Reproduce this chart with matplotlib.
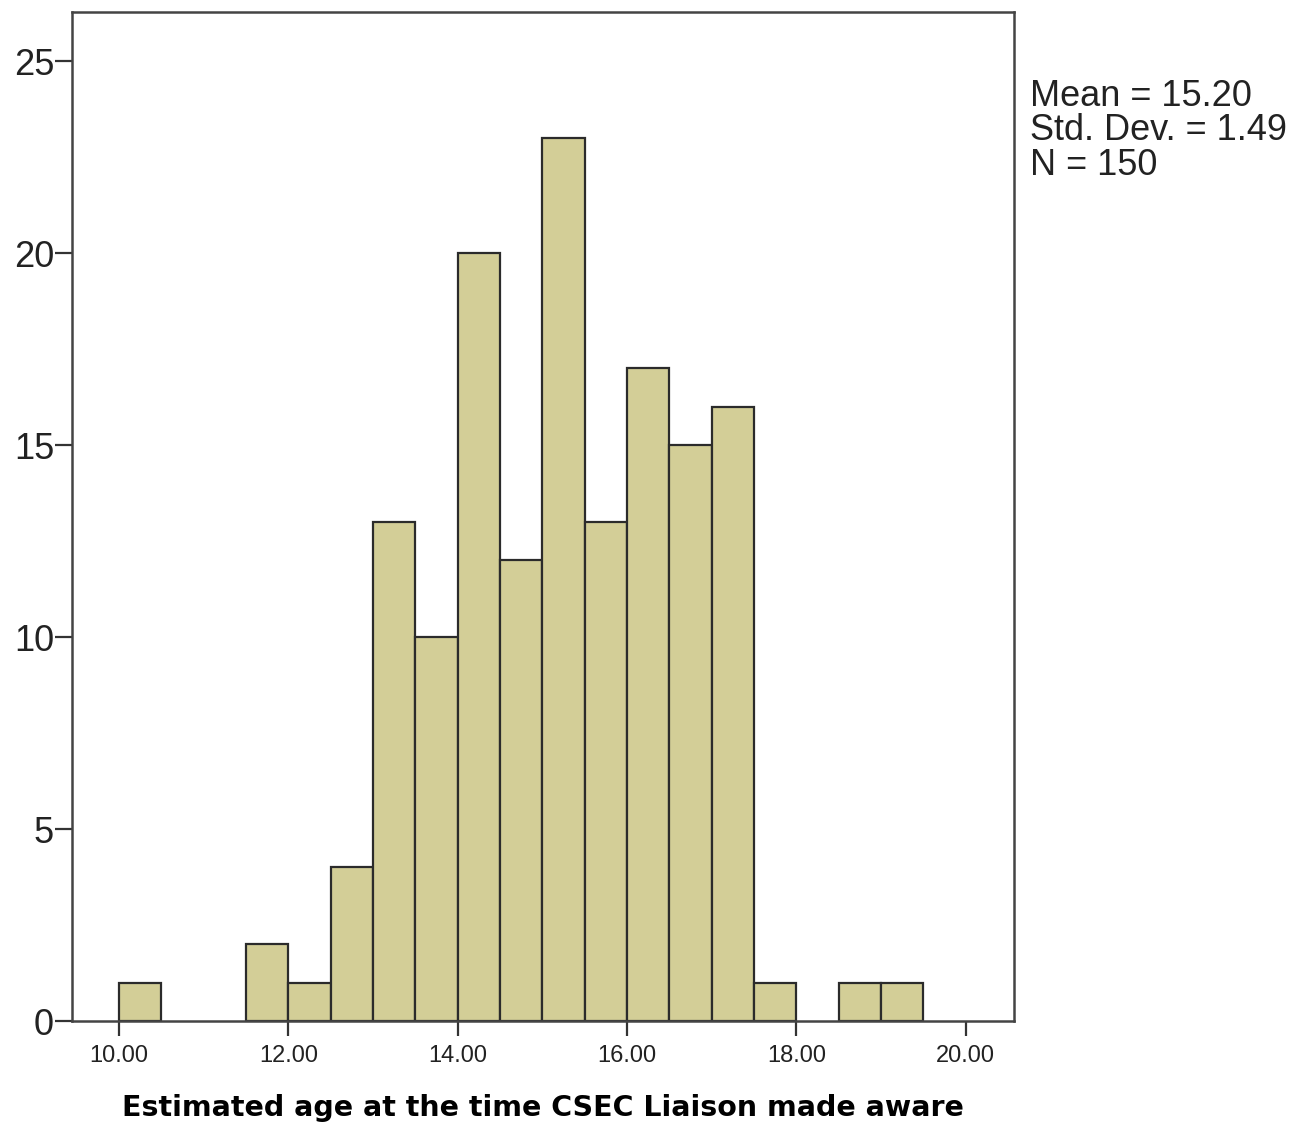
import numpy as np
import matplotlib
matplotlib.use("Agg")
import matplotlib.pyplot as plt

# histogram bins (left edges) and counts, width 0.5
bin_left = [10.0, 10.5, 11.0, 11.5, 12.0, 12.5, 13.0, 13.5, 14.0, 14.5,
            15.0, 15.5, 16.0, 16.5, 17.0, 17.5, 18.0, 18.5, 19.0]
counts = [1, 0, 0, 2, 1, 4, 13, 10, 20, 12, 23, 13, 17, 15, 16, 1, 0, 1, 1]
bin_width = 0.5

x_ticks = [10, 12, 14, 16, 18, 20]
y_ticks = [0, 5, 10, 15, 20, 25]
stats_lines = ["Mean = 15.20", "Std. Dev. = 1.49", "N = 150"]
x_label = "Estimated age at the time CSEC Liaison made aware"

plt.rcParams["font.family"] = ["Liberation Sans", "DejaVu Sans"]

fig = plt.figure(figsize=(12.96, 11.27), dpi=100)
ax = fig.add_axes([0.0556, 0.094, 0.7268, 0.8954])

# draw only non-empty bins
xs = [b for b, c in zip(bin_left, counts) if c > 0]
hs = [c for c in counts if c > 0]
ax.bar(xs, hs, width=bin_width, align="edge", color="#D3CE97",
       edgecolor="#2b2b2b", linewidth=1.6, zorder=2)

ax.set_xlim(9.445, 20.57)
ax.set_ylim(0, 26.28)

ax.set_xticks(x_ticks)
ax.set_xticklabels([f"{t:.2f}" for t in x_ticks], fontsize=17, color="#222222")
ax.set_yticks(y_ticks)
ax.set_yticklabels([str(t) for t in y_ticks], fontsize=26, color="#222222")
ax.tick_params(axis="x", direction="out", length=11, width=1.6, color="#333333", pad=6)
ax.tick_params(axis="y", direction="out", length=12, width=1.6, color="#333333", pad=1)

for name, sp in ax.spines.items():
    sp.set_color("#444444")
    sp.set_linewidth(1.8)

ax.set_xlabel(x_label, fontsize=20.5, fontweight="bold", family="DejaVu Sans",
              labelpad=20)

fig.text(0.795, 0.93, "\n".join(stats_lines), fontsize=26, color="#222222",
         va="top", ha="left", linespacing=0.98)

fig.savefig("out.png", dpi=100)
